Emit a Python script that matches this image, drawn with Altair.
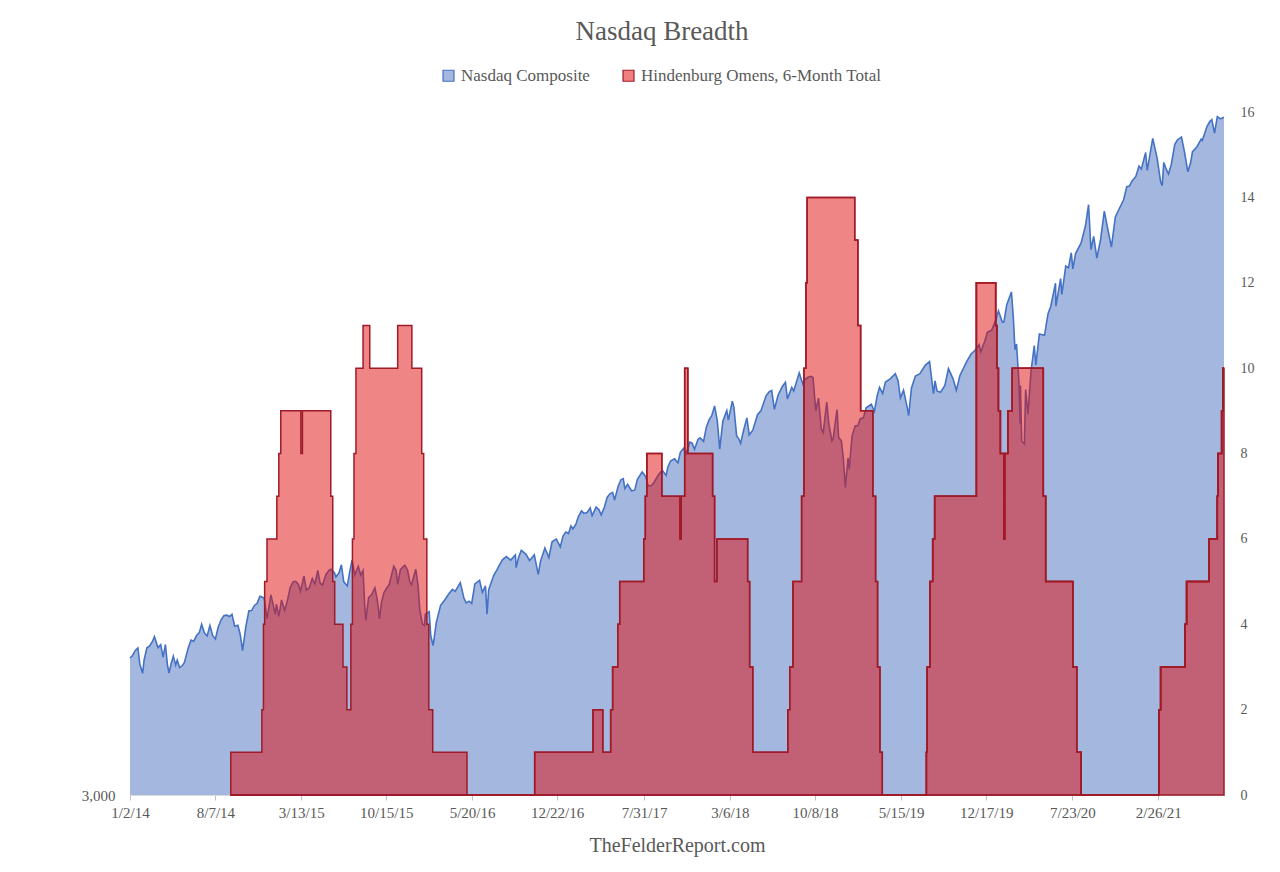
import altair as alt
import pandas as pd

SERIES = ["Nasdaq Composite", "Hindenburg Omens, 6-Month Total"]

# Nasdaq Composite closes (month-day, value) per year
nq14_days = ["01-02", "01-08", "01-15", "01-22", "01-27", "02-03", "02-07", "02-14", "02-21", "02-28",
             "03-05", "03-14", "03-21", "03-27", "04-02", "04-07", "04-11", "04-17", "04-22", "04-28",
             "05-02", "05-08", "05-15", "05-20", "05-30", "06-06", "06-13", "06-20", "06-27", "07-03",
             "07-10", "07-17", "07-24", "07-31", "08-07", "08-14", "08-22", "08-29", "09-05", "09-12",
             "09-18", "09-25", "10-03", "10-09", "10-15", "10-23", "10-31", "11-07", "11-14", "11-21",
             "11-28", "12-05", "12-09", "12-16", "12-26"]
nq14_vals = [4143, 4165, 4215, 4243, 4083, 3996, 4126, 4244, 4263, 4308,
             4358, 4246, 4276, 4151, 4276, 4079, 3999, 4095, 4161, 4074,
             4123, 4051, 4070, 4097, 4243, 4321, 4310, 4368, 4398, 4485,
             4396, 4364, 4472, 4370, 4334, 4454, 4539, 4580, 4583, 4568,
             4593, 4466, 4475, 4379, 4215, 4453, 4631, 4633, 4689, 4713,
             4791, 4781, 4766, 4547, 4807]

nq15_days = ["01-06", "01-09", "01-15", "01-22", "01-30", "02-06", "02-13", "02-20", "02-27", "03-06",
             "03-11", "03-20", "03-26", "04-02", "04-10", "04-17", "04-24", "04-30", "05-06", "05-15",
             "05-22", "05-27", "06-05", "06-09", "06-17", "06-23", "06-29", "07-08", "07-14", "07-20",
             "07-27", "08-05", "08-11", "08-17", "08-21", "08-24", "08-31", "09-08", "09-16", "09-22",
             "09-28", "10-02", "10-09", "10-16", "10-22", "11-03", "11-09", "11-13", "11-20", "12-01",
             "12-08", "12-14", "12-18", "12-29"]
nq15_vals = [4593, 4704, 4570, 4750, 4635, 4745, 4893, 4956, 4964, 4927,
             4849, 5026, 4863, 4886, 4996, 4932, 5092, 4941, 4920, 5048,
             5090, 5106, 5068, 5014, 5064, 5161, 4958, 4910, 5072, 5219,
             5039, 5140, 5036, 5091, 4706, 4526, 4777, 4812, 4889, 4756,
             4543, 4707, 4830, 4887, 4920, 5145, 5095, 4927, 5105, 5156,
             5098, 4952, 4923, 5107]

nq16_days = ["01-04", "01-08", "01-15", "01-20", "01-22", "02-01", "02-05", "02-11", "02-19", "03-01",
             "03-11", "03-22", "03-31", "04-07", "04-20", "04-29", "05-05", "05-12", "05-19", "05-27",
             "06-08", "06-15", "06-23", "06-27", "07-01", "07-14", "07-22", "07-29", "08-05", "08-15",
             "08-26", "09-07", "09-09", "09-15", "09-22", "10-04", "10-13", "10-25", "11-04", "11-10",
             "11-21", "12-01", "12-09", "12-13", "12-20", "12-30"]
nq16_vals = [4903, 4643, 4488, 4472, 4591, 4620, 4363, 4267, 4504, 4690,
             4748, 4821, 4870, 4848, 4948, 4775, 4717, 4737, 4712, 4933,
             4974, 4835, 4910, 4594, 4863, 5035, 5100, 5162, 5221, 5262,
             5218, 5283, 5126, 5250, 5339, 5289, 5213, 5283, 5046, 5208,
             5369, 5251, 5445, 5463, 5483, 5383]

nq17_days = ["01-06", "01-13", "01-20", "01-26", "01-31", "02-08", "02-14", "02-22", "02-28", "03-08",
             "03-16", "03-21", "03-31", "04-07", "04-13", "04-21", "04-28", "05-05", "05-12", "05-17",
             "05-26", "06-02", "06-08", "06-12", "06-19", "06-29", "07-07", "07-14", "07-26", "08-04",
             "08-10", "08-18", "08-25", "09-05", "09-15", "09-25", "09-29", "10-06", "10-16", "10-25",
             "10-31", "11-08", "11-15", "11-24", "11-30", "12-06", "12-15", "12-20", "12-29"]
nq17_vals = [5521, 5574, 5555, 5656, 5615, 5682, 5782, 5860, 5825, 5838,
             5900, 5794, 5912, 5878, 5805, 5910, 6048, 6100, 6121, 6011,
             6210, 6306, 6321, 6175, 6239, 6144, 6153, 6312, 6422, 6351,
             6217, 6217, 6265, 6376, 6448, 6371, 6496, 6590, 6624, 6564,
             6728, 6789, 6707, 6890, 6874, 6776, 6937, 6960, 6903]

nq18_days = ["01-05", "01-12", "01-19", "01-26", "02-02", "02-08", "02-16", "02-26", "03-02", "03-12",
             "03-16", "03-23", "03-28", "04-02", "04-10", "04-18", "04-24", "05-03", "05-15", "05-24",
             "06-06", "06-14", "06-20", "06-27", "07-06", "07-17", "07-25", "07-30", "08-10", "08-15",
             "08-29", "09-07", "09-11", "09-20", "09-28", "10-03", "10-10", "10-17", "10-24", "10-29",
             "11-07", "11-12", "11-20", "11-23", "12-03", "12-07", "12-14", "12-19", "12-24", "12-31"]
nq18_vals = [7137, 7261, 7336, 7505, 7241, 6777, 7239, 7421, 7257, 7589,
             7482, 6993, 6949, 6871, 7095, 7296, 7008, 7088, 7351, 7424,
             7689, 7761, 7781, 7445, 7688, 7855, 7932, 7630, 7839, 7774,
             8110, 7903, 7972, 8028, 8046, 8025, 7422, 7642, 7108, 7050,
             7570, 7200, 6909, 6938, 7441, 6969, 6910, 6636, 6193, 6635]

nq19_days = ["01-03", "01-10", "01-18", "01-25", "01-31", "02-08", "02-15", "02-28", "03-08", "03-15",
             "03-21", "03-29", "04-05", "04-17", "04-30", "05-07", "05-13", "05-21", "05-31", "06-03",
             "06-10", "06-20", "07-01", "07-15", "07-26", "08-05", "08-09", "08-14", "08-23", "09-03",
             "09-12", "09-24", "10-02", "10-11", "10-28", "11-08", "11-18", "11-29", "12-03", "12-13",
             "12-20", "12-31"]
nq19_vals = [6463, 6986, 7157, 7165, 7282, 7298, 7472, 7533, 7408, 7688,
             7838, 7729, 7939, 7997, 8095, 7963, 7647, 7786, 7453, 7333,
             7823, 8051, 8092, 8258, 8330, 7726, 7959, 7773, 7751, 7875,
             8194, 7993, 7785, 8057, 8325, 8475, 8550, 8665, 8521, 8735,
             8925, 8973]

nq20_days = ["01-10", "01-17", "01-27", "01-31", "02-07", "02-19", "02-24", "02-28", "03-03", "03-09",
             "03-12", "03-13", "03-16", "03-23", "03-26", "04-01", "04-09", "04-17", "04-21", "04-30",
             "05-13", "05-22", "05-29", "06-10", "06-11", "06-23", "06-26", "07-06", "07-13", "07-20",
             "07-24", "07-31", "08-14", "08-25", "09-02", "09-08", "09-15", "09-23", "10-02", "10-12",
             "10-19", "10-30", "11-09", "11-17", "11-30", "12-08", "12-15", "12-21", "12-31"]
nq20_vals = [9179, 9389, 9139, 9150, 9520, 9817, 9221, 8567, 8684, 7950,
             7201, 7875, 6905, 6861, 7797, 7360, 8153, 8650, 8263, 8890,
             8863, 9325, 9490, 10020, 9493, 10131, 9757, 10433, 10391, 10767,
             10363, 10745, 11019, 11466, 12056, 10847, 11190, 10633, 11075, 11876,
             11478, 10912, 11713, 11899, 12198, 12582, 12596, 12742, 12888]

nq21_days = ["01-08", "01-14", "01-25", "01-29", "02-12", "02-23", "03-04", "03-08", "03-12", "03-18",
             "03-24", "03-31", "04-09", "04-16", "04-26", "05-04", "05-12", "05-19", "05-24", "06-04",
             "06-15", "06-18", "06-30", "07-07", "07-12", "07-19", "07-26", "08-03", "08-12"]
nq21_vals = [13202, 13112, 13635, 13070, 14095, 13465, 12723, 12609, 13320, 13116,
             12962, 13247, 13900, 14052, 14138, 13633, 13032, 13300, 13661, 13814,
             14072, 14030, 14504, 14665, 14733, 14275, 14840, 14761, 14816]

# Hindenburg Omens, 6-month total: change points (value holds until next date), per episode
omen_dates = [
    "2014-09-15", "2014-12-03", "2014-12-07", "2014-12-10", "2014-12-16", "2015-01-10", "2015-01-15",
    "2015-01-20", "2015-03-12", "2015-03-16", "2015-05-27", "2015-06-01", "2015-06-06", "2015-06-27",
    "2015-07-07", "2015-07-17", "2015-07-21", "2015-07-25", "2015-07-30", "2015-08-17", "2015-09-03",
    "2015-11-13", "2015-12-19", "2016-01-13", "2016-01-18", "2016-01-26", "2016-01-31", "2016-02-10",
    "2016-05-07",
    "2016-10-26", "2017-03-23", "2017-04-17", "2017-05-07", "2017-05-12", "2017-05-25", "2017-05-30",
    "2017-07-30", "2017-08-03", "2017-08-07", "2017-09-14", "2017-10-30", "2017-11-02", "2017-11-11",
    "2017-11-19", "2018-01-21", "2018-01-26", "2018-02-01", "2018-04-20", "2018-04-25", "2018-05-03",
    "2018-07-31", "2018-08-05", "2018-08-13", "2018-09-04", "2018-09-10", "2018-09-15", "2018-09-18",
    "2019-01-17", "2019-01-25", "2019-02-01", "2019-03-04", "2019-03-11", "2019-03-16", "2019-03-22",
    "2019-03-28",
    "2019-07-18", "2019-07-20", "2019-07-27", "2019-08-03", "2019-08-08", "2019-11-22", "2020-01-10",
    "2020-01-13", "2020-01-17", "2020-01-22", "2020-01-31", "2020-02-02", "2020-02-10", "2020-02-21",
    "2020-05-10", "2020-05-16", "2020-07-24", "2020-08-03", "2020-08-14",
    "2021-02-28", "2021-03-04", "2021-05-05", "2021-05-09", "2021-07-05", "2021-07-26", "2021-07-28",
    "2021-08-06", "2021-08-09", "2021-08-12",
]
omen_values = [
    1, 2, 4, 5, 6, 7, 8,
    9, 8, 9, 7, 5, 4, 3,
    2, 4, 6, 8, 10, 11, 10,
    11, 10, 8, 6, 4, 2, 1,
    0,
    1, 2, 1, 2, 3, 4, 5,
    6, 7, 8, 7, 6, 7, 10,
    8, 7, 5, 6, 5, 3, 1,
    2, 3, 5, 7, 10, 12, 14,
    13, 11, 9, 7, 5, 3, 1,
    0,
    1, 3, 5, 6, 7, 12, 11,
    10, 9, 8, 6, 8, 9, 10,
    7, 5, 3, 1, 0,
    2, 3, 4, 5, 6, 7, 8,
    9, 10, 10,
]
omen_episode = [1] * 29 + [2] * 36 + [3] * 19 + [4] * 10

x_tick_dates = [(2014, 1, 2), (2014, 8, 7), (2015, 3, 13), (2015, 10, 15), (2016, 5, 20),
                (2016, 12, 22), (2017, 7, 31), (2018, 3, 6), (2018, 10, 8), (2019, 5, 15),
                (2019, 12, 17), (2020, 7, 23), (2021, 2, 26)]
x_domain = [(2014, 1, 2), (2021, 8, 12)]
right_ticks = [0, 2, 4, 6, 8, 10, 12, 14, 16]
left_ticks = [3000]

FONT = "Liberation Serif"
GREY = "#595959"
BLUE_FILL = "#A4B7DF"
BLUE_LINE = "#4472C4"
RED_FILL = "#E00B0B"
RED_LINE = "#9E1B2A"
RED_SWATCH = "#F07F7F"

years = [(2014, nq14_days, nq14_vals), (2015, nq15_days, nq15_vals), (2016, nq16_days, nq16_vals),
         (2017, nq17_days, nq17_vals), (2018, nq18_days, nq18_vals), (2019, nq19_days, nq19_vals),
         (2020, nq20_days, nq20_vals), (2021, nq21_days, nq21_vals)]
rows = []
for yr, days, vals in years:
    assert len(days) == len(vals), yr
    for d, v in zip(days, vals):
        rows.append({"date": f"{yr}-{d}", "value": v, "series": SERIES[0]})
nasdaq = pd.DataFrame(rows)

assert len(omen_dates) == len(omen_values) == len(omen_episode)
omens = pd.DataFrame({"date": omen_dates, "value": omen_values,
                      "episode": omen_episode, "series": SERIES[1]})


def dt(t):
    return alt.DateTime(year=t[0], month=t[1], date=t[2], utc=True)


color_scale = alt.Scale(domain=SERIES, range=[BLUE_FILL, RED_SWATCH])
stroke_scale = alt.Scale(domain=SERIES, range=[BLUE_LINE, RED_LINE])

legend = alt.Legend(
    orient="none", legendX=310, legendY=-45, direction="horizontal", title=None,
    symbolType="square", symbolSize=120, symbolStrokeWidth=1.2, symbolOpacity=1,
    labelFont=FONT, labelFontSize=17, labelColor=GREY, labelOffset=4, labelLimit=0,
    columnPadding=30, padding=0,
)

x_enc = alt.X(
    "date:T",
    scale=alt.Scale(type="utc", domain=[dt(d) for d in x_domain], nice=False),
    axis=alt.Axis(
        values=[dt(d) for d in x_tick_dates],
        labelExpr="utcFormat(datum.value, '%-m/%-d/%y')",
        labelFont=FONT, labelFontSize=15, labelColor=GREY, labelPadding=5,
        labelFlush=False, labelOverlap=False,
        tickSize=5, tickColor="#BFBFBF", domainColor="#D9D9D9", grid=False,
        title="TheFelderReport.com", titleFont=FONT, titleFontSize=20,
        titleColor=GREY, titleFontWeight="normal", titlePadding=15,
    ),
)

# blue area carries the legend (both entries via the explicit scale domain)
blue_area = alt.Chart(nasdaq).mark_area(interpolate="linear", strokeWidth=0).encode(
    x=x_enc,
    y=alt.Y(
        "value:Q",
        scale=alt.Scale(type="log", domain=[3000, 15000], nice=False),
        axis=alt.Axis(orient="left", values=left_ticks, format=",", labelFont=FONT,
                      labelFontSize=15, labelColor=GREY, labelPadding=15,
                      domain=False, ticks=False, grid=False),
        title=None,
    ),
    y2=alt.Y2Datum(3000),
    color=alt.Color("series:N", scale=color_scale, legend=legend),
    stroke=alt.Stroke("series:N", scale=stroke_scale),
)

blue_line = alt.Chart(nasdaq).mark_line(color=BLUE_LINE, strokeWidth=1.6).encode(
    x=alt.X("date:T"),
    y=alt.Y("value:Q"),
)

red_area = alt.Chart(omens).mark_area(
    interpolate="step-after", fill=RED_FILL, fillOpacity=0.5, stroke=RED_LINE, strokeWidth=1.5
).encode(
    x=alt.X("date:T"),
    y=alt.Y(
        "value:Q",
        scale=alt.Scale(domain=[0, 16], nice=False),
        axis=alt.Axis(orient="right", values=right_ticks, labelFont=FONT,
                      labelFontSize=14, labelColor=GREY, labelPadding=16,
                      domain=False, ticks=False, grid=False),
        title=None,
    ),
    detail="episode:N",
)

chart = (
    alt.layer(alt.layer(blue_area, blue_line), red_area)
    .resolve_scale(y="independent")
    .properties(
        width=1094, height=683,
        title=alt.TitleParams("Nasdaq Breadth", font=FONT, fontSize=27, color=GREY,
                              fontWeight="normal", anchor="middle", offset=21, dx=-15),
        padding={"left": 122, "top": 104, "right": 40, "bottom": 72},
        autosize=alt.AutoSizeParams(type="none"),
    )
    .configure_view(stroke=None)
)

chart.save("out.html", embed_options={"renderer": "svg", "actions": False})
